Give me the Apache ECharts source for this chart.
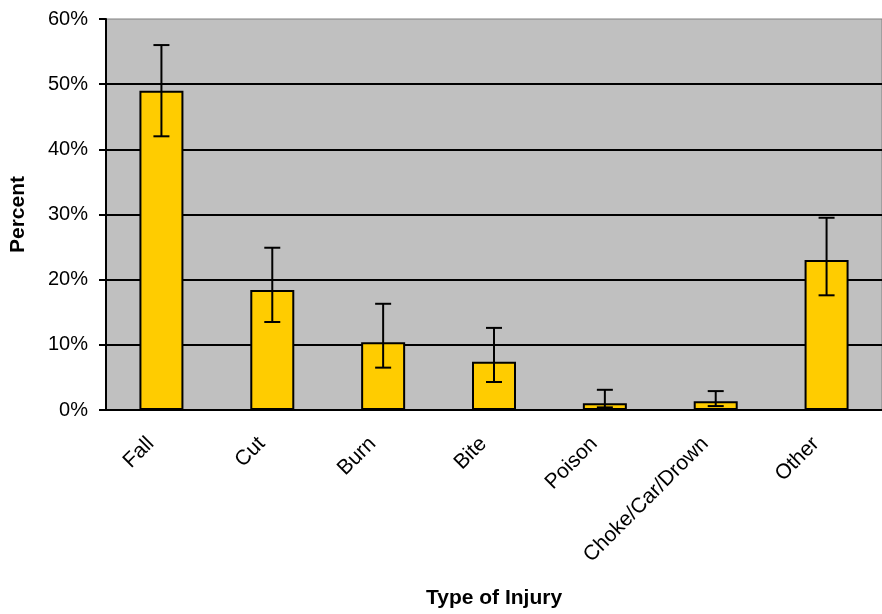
<!DOCTYPE html>
<html>
<head>
<meta charset="utf-8">
<script src="https://cdn.jsdelivr.net/npm/echarts@6/dist/echarts.min.js"></script>
<style>
html,body{margin:0;padding:0;background:#fff;}
#chart{width:882px;height:614px;}
</style>
</head>
<body>
<div id="chart"></div>
<script>
// injury categories and percent values
var categories = ['Fall', 'Cut', 'Burn', 'Bite', 'Poison', 'Choke/Car/Drown', 'Other'];
var percents = [49, 18.4, 10.4, 7.4, 1.05, 1.35, 23];
var errLow = [42, 13.5, 6.5, 4.3, 0.4, 0.6, 17.6];
var errHigh = [56, 24.9, 16.3, 12.6, 3.1, 2.9, 29.5];
var yTicks = [0, 10, 20, 30, 40, 50, 60];

var errData = categories.map(function(c, i){
	return [i, errLow[i], errHigh[i]];
});

var myChart = echarts.init(document.getElementById('chart'));

function renderErr(params, api){
	var x = api.value(0);
	var lo = api.coord([x, api.value(1)]);
	var hi = api.coord([x, api.value(2)]);
	var half = 8;
	var style = {stroke: '#000', lineWidth: 2, fill: null};
	return {
		type: 'group',
		children: [
			{type: 'line', shape: {x1: hi[0], y1: hi[1], x2: lo[0], y2: lo[1]}, style: style},
			{type: 'line', shape: {x1: hi[0] - half, y1: hi[1], x2: hi[0] + half, y2: hi[1]}, style: style},
			{type: 'line', shape: {x1: lo[0] - half, y1: lo[1], x2: lo[0] + half, y2: lo[1]}, style: style}
		]
	};
}

var option = {
	animation: false,
	textStyle: {fontFamily: 'Liberation Sans, Arial, sans-serif', color: '#000'},
	grid: {
		left: 104,
		top: 19,
		width: 790,
		height: 392,
		show: true,
		backgroundColor: '#c0c0c0',
		borderColor: '#808080',
		borderWidth: 1
	},
	xAxis: {
		type: 'category',
		data: categories,
		name: 'Type of Injury',
		nameLocation: 'middle',
		nameGap: 178,
		nameTextStyle: {fontSize: 21, fontWeight: 'bold', color: '#000'},
		axisLine: {lineStyle: {color: '#000', width: 2}},
		axisTick: {length: 7, lineStyle: {color: '#000', width: 2}},
		axisLabel: {rotate: 45, fontSize: 21, color: '#000', margin: 20, padding: [0, 15, 0, 0], interval: 0}
	},
	yAxis: {
		type: 'value',
		min: yTicks[0],
		max: yTicks[yTicks.length - 1],
		interval: 10,
		name: 'Percent',
		nameLocation: 'middle',
		nameRotate: 90,
		nameGap: 77,
		nameTextStyle: {fontSize: 21, fontWeight: 'bold', color: '#000'},
		axisLine: {show: true, lineStyle: {color: '#000', width: 2}},
		axisTick: {show: true, length: 7, lineStyle: {color: '#000', width: 2}},
		axisLabel: {formatter: '{value}%', fontSize: 20, color: '#000', margin: 18},
		splitLine: {show: true, showMaxLine: false, lineStyle: {color: '#000', width: 2}}
	},
	series: [
		{
			type: 'bar',
			data: percents,
			barWidth: 44,
			itemStyle: {color: '#ffcc00', borderColor: '#000', borderWidth: 2}
		},
		{
			type: 'custom',
			data: errData,
			renderItem: renderErr,
			encode: {x: 0, y: [1, 2]},
			z: 5
		}
	]
};

myChart.setOption(option);
</script>
</body>
</html>
